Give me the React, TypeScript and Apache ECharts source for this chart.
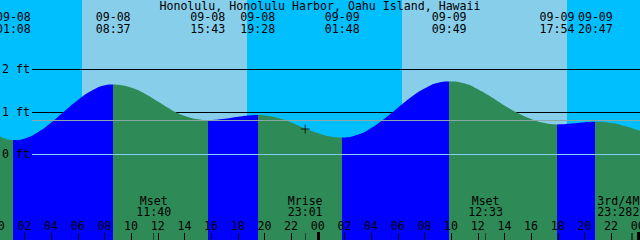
import React, { useEffect, useRef } from "react";
import * as echarts from "echarts";

// ---------- data ----------
const stationTitle = "Honolulu, Honolulu Harbor, Oahu Island, Hawaii";
const dayOrder = ["09-08", "09-09"];

const tideDates = ["09-08", "09-08", "09-08", "09-08", "09-09", "09-09", "09-09", "09-09"];
const tideTimes = ["01:08", "08:37", "15:43", "19:28", "01:48", "09:49", "17:54", "20:47"];
const tideKinds = ["low", "high", "low", "high", "low", "high", "low", "high"];

// hours since 09-08 00:00 and water level (ft)
const curveHours = [0, 1.13, 2, 3, 4, 5, 6, 7, 8, 8.62, 9, 10, 11, 12, 13, 14, 15, 15.72, 17, 18, 19, 19.47, 20, 21, 22, 23, 24, 25, 25.8, 27, 28, 29, 30, 31, 32, 33, 33.82, 35, 36, 37, 38, 39, 40, 41, 41.9, 43, 44, 44.78, 46, 47, 48, 48.2];
const curveFeet = [0.46, 0.35, 0.39, 0.54, 0.77, 1.04, 1.3, 1.51, 1.64, 1.66, 1.65, 1.58, 1.44, 1.25, 1.06, 0.92, 0.84, 0.82, 0.85, 0.9, 0.935, 0.94, 0.93, 0.87, 0.76, 0.63, 0.51, 0.43, 0.41, 0.48, 0.64, 0.865, 1.12, 1.37, 1.57, 1.7, 1.73, 1.68, 1.54, 1.36, 1.16, 0.98, 0.84, 0.75, 0.72, 0.74, 0.77, 0.78, 0.75, 0.68, 0.58, 0.57];

const sunriseTimes = ["06:18", "06:17"];
const sunsetTimes = ["18:39", "18:39"];

const moonNames = ["Mset", "Mrise", "Mset", "3rd/4", "Mrise"];
const moonDates = ["09-08", "09-08", "09-09", "09-09", "09-09"];
const moonTimes = ["11:40", "23:01", "12:33", "23:28", "23:36"];
const moonLabelAlign = ["center", "center", "center", "right", "left"];

const gridLevels = [2, 1];
const levelLabelValues = [0, 1, 2];
const levelLabelTexts = ["0 ft", "1 ft", "2 ft"];
const datumLevel = 0;
const meanSeaLevel = 0.82;
const hourTicks = [0, 2, 4, 6, 8, 10, 12, 14, 16, 18, 20, 22, 24, 26, 28, 30, 32, 34, 36, 38, 40, 42, 44, 46, 48];
const nowMark = [23.02, 0.61];

// ---------- styling ----------
const X_MIN = 0.13;
const X_MAX = 48.13;
const Y_MIN = -2;
const Y_MAX = 3.647;
const NIGHT = "#00BFFF";
const DAY = "#87CEEB";
const FLOOD = "#0000FF";
const EBB = "#2E8B57";
const FONT = '11.6px "DejaVu Sans Mono", "Liberation Mono", monospace';

const toHours = (date: string, time: string) => {
  const [h, m] = time.split(":").map(Number);
  return dayOrder.indexOf(date) * 24 + h + m / 60;
};

const txt = (x: number, y: number, text: string, align = "center") => ({
  type: "text",
  x,
  y,
  silent: true,
  style: {
    text,
    fill: "#000",
    font: FONT,
    align,
    textAlign: align,
    verticalAlign: "middle",
    textVerticalAlign: "middle",
  },
});

export default function App() {
  const ref = useRef<HTMLDivElement>(null);

  useEffect(() => {
    if (!ref.current) return;
    const chart = echarts.init(ref.current, undefined, { renderer: "svg" });

    const tideHours = tideTimes.map((t, i) => toHours(tideDates[i], t));
    const pieces: any[] = [];
    let prev = -1;
    tideHours.forEach((h, i) => {
      pieces.push({ gte: prev, lt: h, color: tideKinds[i] === "high" ? FLOOD : EBB });
      prev = h;
    });
    pieces.push({ gte: prev, lt: 50, color: tideKinds[tideKinds.length - 1] === "high" ? EBB : FLOOD });

    const dayRanges = dayOrder.map((d, i) => [toHours(d, sunriseTimes[i]), toHours(d, sunsetTimes[i])]);
    const moonHours = moonTimes.map((t, i) => toHours(moonDates[i], t));

    const series: any[] = [
      {
        type: "custom",
        z: 1,
        silent: true,
        data: dayRanges,
        renderItem: (_p: any, api: any) => {
          const a = api.coord([api.value(0), Y_MAX]);
          const b = api.coord([api.value(1), Y_MIN]);
          const x0 = Math.round(a[0]);
          const x1 = Math.round(b[0]);
          return {
            type: "rect",
            shape: { x: x0, y: 0, width: x1 - x0, height: Math.round(b[1]) },
            style: { fill: DAY },
          };
        },
      },
      {
        type: "custom",
        z: 2,
        silent: true,
        data: gridLevels.map((v) => [X_MIN, v]),
        renderItem: (_p: any, api: any) => {
          const p = api.coord([X_MIN, api.value(1)]);
          const e = api.coord([X_MAX, api.value(1)]);
          const y = Math.floor(p[1]) + 0.5;
          return {
            type: "line",
            shape: { x1: 32, y1: y, x2: e[0], y2: y },
            style: { stroke: "#000", lineWidth: 1 },
          };
        },
      },
      {
        type: "line",
        z: 3,
        silent: true,
        smooth: true,
        symbol: "none",
        data: curveHours.map((h, i) => [h, curveFeet[i]]),
        lineStyle: { width: 0 },
        areaStyle: { opacity: 1, origin: "start" },
      },
      {
        type: "custom",
        z: 4,
        silent: true,
        data: [
          [X_MIN, meanSeaLevel],
          [X_MIN, datumLevel],
        ],
        renderItem: (params: any, api: any) => {
          const p = api.coord([X_MIN, api.value(1)]);
          const e = api.coord([X_MAX, api.value(1)]);
          const y = Math.floor(p[1]) + 0.5;
          return {
            type: "line",
            shape: { x1: 32, y1: y, x2: e[0], y2: y },
            style: { stroke: params.dataIndex === 0 ? "#8AA8A6" : "#87CEFA", lineWidth: 1 },
          };
        },
      },
      {
        type: "custom",
        z: 5,
        silent: true,
        data: levelLabelValues.map((v) => [X_MIN, v]),
        renderItem: (params: any, api: any) => {
          const p = api.coord([X_MIN, api.value(1)]);
          return txt(2, Math.floor(p[1]), levelLabelTexts[params.dataIndex], "left");
        },
      },
      {
        type: "custom",
        z: 5,
        silent: true,
        data: tideHours.map((h) => [h, Y_MAX]),
        renderItem: (params: any, api: any) => {
          const p = api.coord([api.value(0), Y_MAX]);
          const i = params.dataIndex;
          return {
            type: "group",
            children: [txt(p[0], 17, tideDates[i]), txt(p[0], 29, tideTimes[i])],
          };
        },
      },
      {
        type: "custom",
        z: 6,
        silent: true,
        data: hourTicks.map((h) => [h, Y_MIN]),
        renderItem: (_p: any, api: any) => {
          const h = api.value(0);
          const p = api.coord([h, Y_MIN]);
          const px = Math.floor(p[0]);
          const midnight = h % 24 === 0;
          return {
            type: "group",
            children: [
              midnight
                ? { type: "rect", shape: { x: px - 1, y: p[1] - 8, width: 3, height: 8 }, style: { fill: "#000" } }
                : { type: "rect", shape: { x: px, y: p[1] - 7, width: 1, height: 7 }, style: { fill: "#000" } },
              txt(p[0] - 0.5, p[1] - 14, String(h % 24).padStart(2, "0")),
            ],
          };
        },
      },
      {
        type: "custom",
        z: 6,
        silent: true,
        data: moonHours.map((h) => [h, Y_MIN]),
        renderItem: (params: any, api: any) => {
          const p = api.coord([api.value(0), Y_MIN]);
          const i = params.dataIndex;
          const align = moonLabelAlign[i];
          const tx = align === "right" ? p[0] + 1 : align === "left" ? p[0] - 0.5 : p[0];
          return {
            type: "group",
            children: [
              { type: "rect", shape: { x: Math.floor(p[0]), y: p[1] - 7, width: 1, height: 7 }, style: { fill: "#1d3f2b" } },
              txt(tx, p[1] - 39.5, moonNames[i], align),
              txt(tx, p[1] - 28, moonTimes[i], align),
            ],
          };
        },
      },
      {
        type: "scatter",
        z: 7,
        silent: true,
        symbol: "path://M4,0h1v4h4v1h-4v4h-1v-4h-4v-1h4z",
        symbolSize: 9,
        itemStyle: { color: "#000" },
        data: [nowMark],
      },
    ];

    chart.setOption({
      animation: false,
      backgroundColor: NIGHT,
      grid: { left: 0, right: 0, top: 0, bottom: 0 },
      xAxis: { type: "value", min: X_MIN, max: X_MAX, show: false },
      yAxis: { type: "value", min: Y_MIN, max: Y_MAX, show: false },
      visualMap: {
        type: "piecewise",
        show: false,
        dimension: 0,
        seriesIndex: 2,
        pieces,
      },
      graphic: [
        {
          type: "text",
          x: 320,
          y: 6,
          z: 10,
          silent: true,
          style: {
            text: stationTitle,
            fill: "#000",
            font: FONT,
            align: "center",
            textAlign: "center",
            verticalAlign: "middle",
            textVerticalAlign: "middle",
          },
        },
      ],
      series,
    });

    return () => chart.dispose();
  }, []);

  return (
    <div
      ref={ref}
      style={{ position: "fixed", left: 0, top: 0, width: 640, height: 240 }}
    />
  );
}
